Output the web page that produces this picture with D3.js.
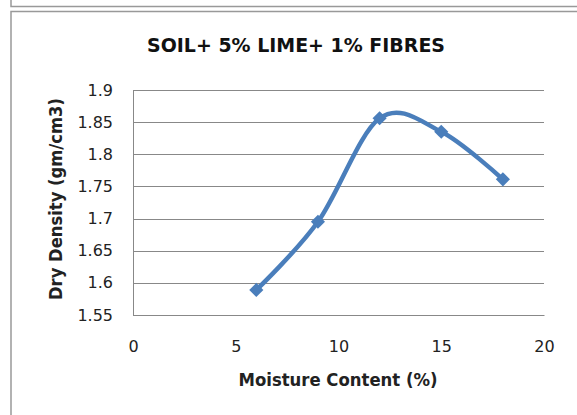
<!DOCTYPE html>
<html>
<head>
<meta charset="utf-8">
<script src="https://cdn.jsdelivr.net/npm/d3@7"></script>
<style>
  body { margin: 0; background: #fff; }
  svg { display: block; }
</style>
</head>
<body>
<div id="chart"></div>
<script>
const moisture = [6, 9, 12, 15, 18];
const dryDensity = [1.589, 1.695, 1.856, 1.835, 1.761];
const xTicks = [0, 5, 10, 15, 20];
const yTicks = [1.55, 1.6, 1.65, 1.7, 1.75, 1.8, 1.85, 1.9];

const chartTitle = 'SOIL+ 5% LIME+ 1% FIBRES';
const xTitle = 'Moisture Content (%)';
const yTitle = 'Dry Density (gm/cm3)';

const width = 577;
const height = 415;
const margin = {top: 90, right: 33, bottom: 100, left: 133};
const chartWidth = width - margin.left - margin.right;
const chartHeight = height - margin.top - margin.bottom;
const font = '"DejaVu Sans", sans-serif';
const blue = '#4a7ebb';

const data = moisture.map((m, i) => ({x: m, y: dryDensity[i]}));

const svg = d3.select('#chart')
  .append('svg')
    .attr('width', width)
    .attr('height', height);

// frames: bottom of the chart above, and this chart's box
svg.append('rect')
    .attr('x', 11).attr('y', -20)
    .attr('width', 600).attr('height', 26.5)
    .attr('fill', 'none')
    .attr('stroke', '#999')
    .attr('stroke-width', 1.5);
svg.append('rect')
    .attr('x', 11).attr('y', 11.5)
    .attr('width', 600).attr('height', 450)
    .attr('fill', 'none')
    .attr('stroke', '#999')
    .attr('stroke-width', 1.5);

const xScale = d3.scaleLinear()
  .domain([0, 20])
  .range([0, chartWidth]);

const yScale = d3.scaleLinear()
  .domain([1.55, 1.9])
  .range([chartHeight, 0]);

const g = svg.append('g')
  .attr('transform', `translate(${margin.left},${margin.top})`);

// gridlines
g.append('g')
  .selectAll('line')
  .data(yTicks)
  .join('line')
    .attr('x1', 0)
    .attr('x2', chartWidth)
    .attr('y1', d => Math.round(yScale(d)) + 0.5)
    .attr('y2', d => Math.round(yScale(d)) + 0.5)
    .attr('stroke', '#888')
    .attr('stroke-width', 1);

// axes
const xAxis = d3.axisBottom(xScale)
  .tickValues(xTicks)
  .tickSize(0)
  .tickPadding(26)
  .tickFormat(d3.format('d'));

const yAxis = d3.axisLeft(yScale)
  .tickValues(yTicks)
  .tickSize(0)
  .tickPadding(20)
  .tickFormat(d => String(+d.toFixed(2)));

g.append('g')
    .attr('transform', `translate(0,${chartHeight})`)
    .call(xAxis)
    .call(a => a.select('.domain').attr('stroke', '#888'))
    .selectAll('text')
      .attr('font-family', font)
      .attr('font-size', 16)
      .attr('fill', '#222');

g.append('g')
    .call(yAxis)
    .call(a => a.select('.domain').attr('stroke', '#888'))
    .selectAll('text')
      .attr('font-family', font)
      .attr('font-size', 16)
      .attr('fill', '#222');

// smoothed line
const line = d3.line()
  .x(d => xScale(d.x))
  .y(d => yScale(d.y))
  .curve(d3.curveCatmullRom.alpha(0));

g.append('path')
    .datum(data)
    .attr('d', line)
    .attr('fill', 'none')
    .attr('stroke', blue)
    .attr('stroke-width', 4.5)
    .attr('stroke-linejoin', 'round');

// diamond markers
g.append('g')
  .selectAll('path')
  .data(data)
  .join('path')
    .attr('d', d3.symbol().type(d3.symbolSquare).size(100))
    .attr('transform', d => `translate(${xScale(d.x)},${yScale(d.y)}) rotate(45)`)
    .attr('fill', blue);

// titles
svg.append('text')
    .attr('x', 296)
    .attr('y', 52)
    .attr('text-anchor', 'middle')
    .attr('font-family', font)
    .attr('font-weight', 'bold')
    .attr('font-size', 20)
    .attr('textLength', 298)
    .attr('lengthAdjust', 'spacingAndGlyphs')
    .attr('fill', '#111')
    .text(chartTitle);

svg.append('text')
    .attr('x', 338)
    .attr('y', 386)
    .attr('text-anchor', 'middle')
    .attr('font-family', font)
    .attr('font-weight', 'bold')
    .attr('font-size', 17)
    .attr('textLength', 199)
    .attr('lengthAdjust', 'spacingAndGlyphs')
    .attr('fill', '#222')
    .text(xTitle);

svg.append('text')
    .attr('transform', 'translate(62,199) rotate(-90)')
    .attr('text-anchor', 'middle')
    .attr('font-family', font)
    .attr('font-weight', 'bold')
    .attr('font-size', 17)
    .attr('textLength', 202)
    .attr('lengthAdjust', 'spacingAndGlyphs')
    .attr('fill', '#222')
    .text(yTitle);
</script>
</body>
</html>
